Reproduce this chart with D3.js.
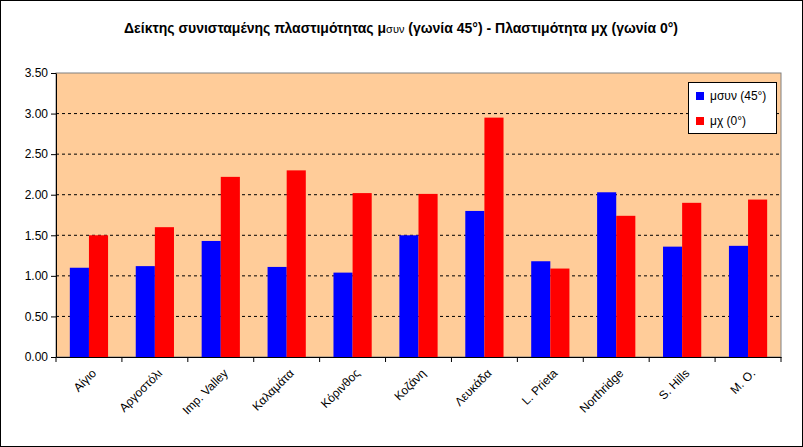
<!DOCTYPE html><html><head><meta charset="utf-8"><script src="https://cdn.jsdelivr.net/npm/d3@7"></script>
<style>body{margin:0;background:#fff}svg{font-family:"Liberation Sans",Arial,sans-serif}</style></head><body><svg width="803" height="447"></svg>
<script>
const categories=["Αίγιο","Αργοστόλι","Imp. Valley","Καλαμάτα","Κόρινθος","Κοζάνη","Λευκάδα","L. Prieta","Northridge","S. Hills","M. O."];
const muSyn=[1.10,1.12,1.43,1.11,1.04,1.50,1.80,1.18,2.03,1.36,1.37];
const muX=[1.50,1.60,2.22,2.30,2.02,2.01,2.95,1.09,1.74,1.90,1.94];
const yTicks=[0,0.5,1,1.5,2,2.5,3,3.5];
const svg=d3.select("svg");
svg.append("rect").attr("x",0.5).attr("y",0.5).attr("width",802).attr("height",446).attr("fill","#fff").attr("stroke","#000");
const L=56,R=781,T=73,B=357;
svg.append("rect").attr("x",L).attr("y",T).attr("width",R-L).attr("height",B-T).attr("fill","#FFCC99");
const x=d3.scaleBand().domain(categories).range([L,R]);
const y=d3.scaleLinear().domain([0,3.5]).range([B,T]);
yTicks.slice(1,-1).forEach(t=>svg.append("line").attr("x1",L).attr("x2",R).attr("y1",y(t)).attr("y2",y(t)).attr("stroke","#000").attr("stroke-dasharray","3,3"));
svg.append("rect").attr("x",L).attr("y",T).attr("width",R-L).attr("height",B-T).attr("fill","none").attr("stroke","#808080");
const bw=x.bandwidth()*0.29, off=x.bandwidth()*0.21;
svg.selectAll(".b").data(muSyn).join("rect").attr("x",(d,i)=>x(categories[i])+off).attr("y",d=>y(d)).attr("width",bw).attr("height",d=>B-y(d)).attr("fill","#0000FF");
svg.selectAll(".r").data(muX).join("rect").attr("x",(d,i)=>x(categories[i])+off+bw).attr("y",d=>y(d)).attr("width",bw).attr("height",d=>B-y(d)).attr("fill","#FF0000");
const ya=svg.append("g").attr("transform",`translate(${L},0)`).call(d3.axisLeft(y).tickValues(yTicks).tickFormat(d3.format(".2f")).tickSize(5).tickSizeOuter(0));
ya.selectAll("text").attr("font-size",12).attr("fill","#000").attr("font-family","Liberation Sans");
ya.selectAll("line,path").attr("stroke","#000");
const xa=svg.append("g").attr("transform",`translate(0,${B})`).call(d3.axisBottom(x).tickSize(0).tickFormat(""));
xa.select("path").attr("stroke","#000");
categories.forEach((c,i)=>svg.append("line").attr("x1",x.step()*i+L).attr("x2",x.step()*i+L).attr("y1",B).attr("y2",B+5).attr("stroke","#000"));
svg.append("line").attr("x1",R).attr("x2",R).attr("y1",B).attr("y2",B+5).attr("stroke","#000");
categories.forEach(c=>{const cx=x(c)+x.bandwidth()/2+8;svg.append("text").attr("transform",`translate(${cx},${B+17}) rotate(-45)`).attr("text-anchor","end").attr("font-size",12).text(c);});
const t=svg.append("text").attr("x",401).attr("y",33).attr("text-anchor","middle").attr("font-size",14).attr("font-weight","bold");
t.append("tspan").text("Δείκτης συνισταμένης πλαστιμότητας μ");
t.append("tspan").attr("font-size",11).attr("font-weight","normal").text("συν");
t.append("tspan").text(" (γωνία 45°) - Πλαστιμότητα μχ (γωνία 0°)");
const lg=svg.append("g");
lg.append("rect").attr("x",688.5).attr("y",82.5).attr("width",88).attr("height",51).attr("fill","#fff").attr("stroke","#000");
[["μσυν (45°)","#0000FF"],["μχ (0°)","#FF0000"]].forEach((d,i)=>{lg.append("rect").attr("x",696).attr("y",92+i*25).attr("width",8).attr("height",8).attr("fill",d[1]);lg.append("text").attr("x",710).attr("y",100+i*25).attr("font-size",12).text(d[0]);});
</script></body></html>
